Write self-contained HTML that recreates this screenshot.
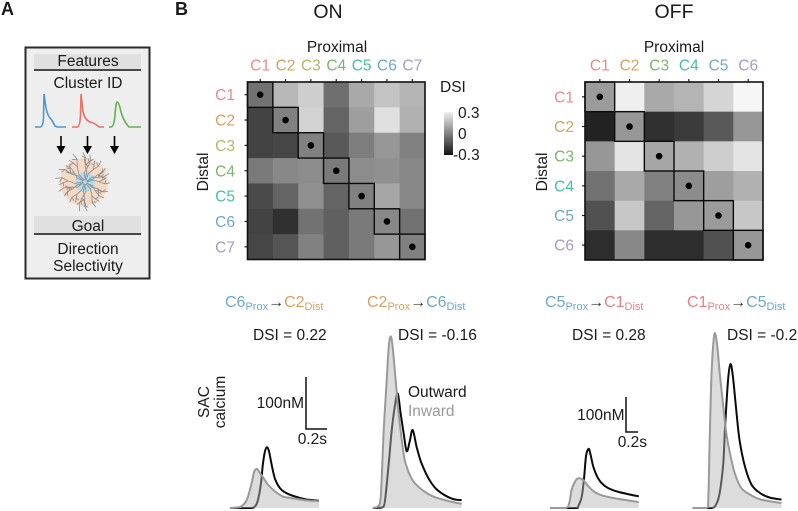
<!DOCTYPE html>
<html>
<head>
<meta charset="utf-8">
<title>SAC direction selectivity figure</title>
<style>
html,body{margin:0;padding:0;background:#fff}
svg{display:block}
text{font-family:"Liberation Sans",sans-serif;fill:#1a1a1a}
</style>
</head>
<body>
<svg id="fig" xmlns="http://www.w3.org/2000/svg" width="798" height="511" viewBox="0 0 798 511">
  <defs>
    <linearGradient id="cbar" x1="0" y1="0" x2="0" y2="1">
      <stop offset="0" stop-color="#f0f0f0"/><stop offset="1" stop-color="#141414"/>
    </linearGradient>
  </defs>
  <rect width="798" height="511" fill="#fff"/>

  <text x="1" y="15" font-size="18" font-weight="bold">A</text>
  <text x="175" y="15" font-size="18" font-weight="bold">B</text>

  <g>
    <rect x="25.5" y="47.5" width="124" height="231" fill="#eeeeee" stroke="#2a2a2a" stroke-width="2"/>
    <rect x="34" y="54" width="107" height="15" fill="#e0e0e0"/>
    <line x1="34" x2="141" y1="70" y2="70" stroke="#111" stroke-width="1.6"/>
    <text x="88" y="66" font-size="15.5" text-anchor="middle">Features</text>
    <text x="88" y="88" font-size="15.5" text-anchor="middle">Cluster ID</text>
    <path d="M35 127 H40 Q43 127 43.500 118 L44 94 L46 108 Q48 117 51 119 Q53 122 55 126 L57 127 H66" fill="none" stroke="#4f97cf" stroke-width="1.6"/>
    <path d="M72 127 H77 Q80 127 80.500 115 L81 94 L83 112 Q85 120 90 122 Q95 123 99 127 H104" fill="none" stroke="#ec6f6a" stroke-width="1.6"/>
    <path d="M109 127 H111 Q114 127 115 115 Q116 102 117 102 Q119 102 121 112 Q124 122 129 127 H141" fill="none" stroke="#62b04f" stroke-width="1.6"/>
    <g stroke="#000" stroke-width="1.6" fill="#000">
      <path d="M61 136 V147"/><path d="M56.500 146 H65.500 L61 154 Z" stroke="none"/>
      <path d="M87.500 136 V147"/><path d="M83 146 H92 L87.500 154 Z" stroke="none"/>
      <path d="M114.500 136 V147"/><path d="M110 146 H119 L114.500 154 Z" stroke="none"/>
    </g>
    <g id="neuron">
      <circle cx="84" cy="182" r="24" fill="#f5d9c4"/>
      <circle cx="85" cy="182" r="10" fill="#b4dbea"/>
    </g>
    <rect x="34" y="216" width="107" height="17" fill="#e0e0e0"/>
    <line x1="34" x2="141" y1="234" y2="234" stroke="#111" stroke-width="1.6"/>
    <text x="88" y="231" font-size="15.5" text-anchor="middle">Goal</text>
    <text x="88" y="254" font-size="15.5" text-anchor="middle">Direction</text>
    <text x="88" y="271" font-size="15.5" text-anchor="middle">Selectivity</text>
  </g>

  <text x="328" y="18" font-size="19.5" text-anchor="middle">ON</text>
  <text x="674" y="18" font-size="19.5" text-anchor="middle">OFF</text>

  <text x="337" y="52" font-size="15.5" text-anchor="middle">Proximal</text>
  <text x="674" y="52" font-size="15.5" text-anchor="middle">Proximal</text>
  <text transform="translate(208,172) rotate(-90)" font-size="15.5" text-anchor="middle">Distal</text>
  <text transform="translate(547,172) rotate(-90)" font-size="15.5" text-anchor="middle">Distal</text>

  <g id="onHeat"></g>
  <g id="offHeat"></g>

  <g>
    <text x="440" y="92" font-size="15.5">DSI</text>
    <rect x="444" y="112" width="9" height="43" fill="url(#cbar)"/>
    <text x="458" y="118" font-size="15.5">0.3</text>
    <text x="458" y="139" font-size="15.5">0</text>
    <text x="453" y="160" font-size="15.5">-0.3</text>
  </g>

  <text x="225" y="307" font-size="16"><tspan fill="#6fa6d0">C6</tspan><tspan fill="#6fa6d0" font-size="11" dy="3">Prox</tspan><tspan fill="#333" dy="-3">→</tspan><tspan fill="#dd9f5e">C2</tspan><tspan fill="#dd9f5e" font-size="11" dy="3">Dist</tspan></text>
  <text x="367" y="307" font-size="16"><tspan fill="#dd9f5e">C2</tspan><tspan fill="#dd9f5e" font-size="11" dy="3">Prox</tspan><tspan fill="#333" dy="-3">→</tspan><tspan fill="#6fa6d0">C6</tspan><tspan fill="#6fa6d0" font-size="11" dy="3">Dist</tspan></text>
  <text x="545" y="307" font-size="16"><tspan fill="#6fa6d0">C5</tspan><tspan fill="#6fa6d0" font-size="11" dy="3">Prox</tspan><tspan fill="#333" dy="-3">→</tspan><tspan fill="#e98080">C1</tspan><tspan fill="#e98080" font-size="11" dy="3">Dist</tspan></text>
  <text x="687" y="307" font-size="16"><tspan fill="#e98080">C1</tspan><tspan fill="#e98080" font-size="11" dy="3">Prox</tspan><tspan fill="#333" dy="-3">→</tspan><tspan fill="#6fa6d0">C5</tspan><tspan fill="#6fa6d0" font-size="11" dy="3">Dist</tspan></text>

  <text x="253" y="340" font-size="15.5">DSI = 0.22</text>
  <text x="398" y="340" font-size="15.5">DSI = -0.16</text>
  <text x="572" y="340" font-size="15.5">DSI = 0.28</text>
  <text x="727" y="340" font-size="15.5">DSI = -0.2</text>

  <g id="traces"></g>

  <text transform="translate(209,402) rotate(-90)" font-size="15.5" text-anchor="middle">SAC</text>
  <text transform="translate(225,402) rotate(-90)" font-size="15.5" text-anchor="middle">calcium</text>

  <g>
    <path d="M306 377 V429 H327" fill="none" stroke="#111" stroke-width="1.500"/>
    <text x="304" y="408" font-size="15.5" text-anchor="end">100nM</text>
    <text x="327" y="444" font-size="15.5" text-anchor="end">0.2s</text>
  </g>
  <g>
    <path d="M626 397 V432 H638" fill="none" stroke="#111" stroke-width="1.500"/>
    <text x="624.500" y="420" font-size="15.5" text-anchor="end">100nM</text>
    <text x="647" y="447" font-size="15.5" text-anchor="end">0.2s</text>
  </g>

  <text x="408" y="397" font-size="15.5">Outward</text>
  <text x="408" y="416" font-size="15.5" style="fill:#9a9a9a">Inward</text>
</svg>

<script>
const NS = 'http://www.w3.org/2000/svg';

// Heatmap data
const onLabels = ['C1', 'C2', 'C3', 'C4', 'C5', 'C6', 'C7'];
const offLabels = ['C1', 'C2', 'C3', 'C4', 'C5', 'C6'];
const onDsi = [
  [-0.07, 0.12, 0.18, -0.08, 0.08, 0.15, 0.11],
  [-0.20, -0.03, 0.19, -0.11, 0.05, 0.23, 0.10],
  [-0.20, -0.19, -0.03, -0.14, -0.04, 0.03, -0.03],
  [-0.05, -0.01, 0.00, -0.05, 0.00, 0.01, -0.01],
  [-0.18, -0.11, 0.01, -0.11, -0.03, 0.07, -0.01],
  [-0.20, -0.25, -0.07, -0.12, -0.05, -0.01, -0.07],
  [-0.19, -0.15, -0.03, -0.12, -0.05, 0.03, -0.03]
];
const offDsi = [
  [0.04, 0.27, 0.08, 0.11, 0.20, 0.29],
  [-0.29, 0.03, -0.25, -0.22, -0.14, 0.03],
  [0.03, 0.24, 0.07, 0.10, 0.18, 0.24],
  [-0.07, 0.08, -0.03, 0.00, 0.05, 0.10],
  [-0.16, 0.16, -0.11, 0.03, 0.04, 0.16],
  [-0.26, -0.01, -0.26, -0.26, -0.16, 0.03]
];
const onLabelColors = ['#e98a8a', '#d9a05c', '#b8b566', '#7ab668', '#45bfa5', '#6fa6d0', '#a79ac8'];
const offLabelColors = ['#e98a8a', '#d9a05c', '#7ab668', '#45bfa5', '#6fa6d0', '#a79ac8'];

// Trace data: time in seconds, calcium in nM
const p1InT = [0, .1, .15, .18, .22, .24, .27, .3, .33, .38, .45, .53, .62, .75, .89];
const p1InV = [0, 2, 10, 22, 51, 69, 75, 67, 59, 45, 32, 22, 19, 15, 13];
const p1OutT = [0, .2, .25, .28, .31, .33, .35, .37, .39, .42, .45, .5, .55, .62, .75, .89];
const p1OutV = [0, 0, 3, 16, 48, 86, 109, 117, 109, 80, 56, 38, 30, 24, 17, 14];
const p2InT = [0, .05, .08, .11, .14, .16, .18, .2, .23, .26, .3, .33, .4, .5, .62, .79, .89];
const p2InV = [0, 3, 21, 149, 245, 309, 330, 309, 245, 181, 117, 85, 53, 34, 21, 12, 8];
const p2OutT = [0, .09, .12, .16, .19, .22, .25, .28, .31, .34, .37, .4, .44, .49, .57, .65, .79, .89];
const p2OutV = [0, 1, 10, 85, 149, 194, 220, 181, 143, 109, 128, 150, 117, 85, 53, 34, 18, 15];
const p3InT = [0, .26, .32, .36, .41, .45, .5, .56, .64, .75, .89, 1.14, 1.48];
const p3InV = [0, 0, 14, 52, 73, 83, 85, 79, 62, 45, 35, 26, 17];
const p3OutT = [0, .42, .47, .53, .57, .6, .64, .67, .72, .78, .86, .97, 1.14, 1.48];
const p3OutV = [0, 0, 5, 33, 90, 148, 169, 157, 119, 92, 71, 57, 46, 33];
const p4InT = [0, .23, .26, .28, .31, .34, .37, .41, .45, .51, .56, .62, .7, .81, .96, 1.14, 1.48];
const p4InV = [0, 0, 24, 176, 367, 462, 500, 462, 386, 290, 214, 157, 100, 57, 38, 24, 14];
const p4OutT = [0, .31, .39, .45, .51, .54, .59, .63, .67, .72, .78, .87, .98, 1.12, 1.28, 1.48];
const p4OutV = [0, 0, 10, 43, 129, 233, 367, 411, 376, 290, 195, 119, 67, 43, 30, 24];

// Neuron illustration: branch directions (degrees), lengths (px), and wiggle offsets (radians)
const branchAngles = [0, 22, 45, 65, 85, 105, 125, 145, 165, 185, 205, 225, 245, 265, 285, 305, 325, 345];
const branchLengths = [27, 27, 27, 30, 32, 33, 28, 27, 31, 33, 32, 28, 34, 33, 31, 29, 27, 28];
const wiggles = [-0.3, 0.25, 0.4, -0.2, -0.45, 0.3, 0.15, -0.35, 0.35, -0.15, 0.2, -0.4];

function make(tag, attrs, parent) {
  const el = document.createElementNS(NS, tag);
  for (const k in attrs) el.setAttribute(k, attrs[k]);
  parent.appendChild(el);
  return el;
}

function grayScale(v) {
  const g = Math.max(0, Math.min(255, Math.round(140 + v * 366.7)));
  return 'rgb(' + g + ',' + g + ',' + g + ')';
}

function drawHeat(rootId, prefix, labels, colors, values, x0, y0, size, labelRight) {
  const root = document.getElementById(rootId);
  const n = labels.length;
  const cell = size / n;
  const xPos = function (i) { return x0 + i * cell; };
  const yPos = function (i) { return y0 + i * cell; };
  values.forEach(function (row, r) {
    row.forEach(function (v, c) {
      const rect = make('rect', { x: xPos(c), y: yPos(r), width: cell + .4, height: cell + .4, fill: grayScale(v) }, root);
      
      
    });
  });
  labels.forEach(function (lab, i) {
    const colText = make('text', { x: xPos(i) + cell / 2, y: 70.5, 'font-size': 15.5, 'text-anchor': 'middle', style: 'fill:' + colors[i] }, root);
    colText.textContent = lab;
    
    
    const rowText = make('text', { x: labelRight, y: yPos(i) + cell / 2 + 5.5, 'font-size': 15.5, 'text-anchor': 'end', style: 'fill:' + colors[i] }, root);
    rowText.textContent = lab;
    
    
    const colTick = make('line', { x1: xPos(i) + cell / 2, x2: xPos(i) + cell / 2, y1: y0 - 3, y2: y0, stroke: '#222', 'stroke-width': 1.2 }, root);
    
    
    const rowTick = make('line', { x1: x0 - 3, x2: x0, y1: yPos(i) + cell / 2, y2: yPos(i) + cell / 2, stroke: '#222', 'stroke-width': 1.2 }, root);
    
    
  });
  labels.forEach(function (lab, i) {
    const box = make('rect', { x: xPos(i), y: yPos(i), width: cell, height: cell, fill: 'none', stroke: '#0a0a0a', 'stroke-width': 1.4 }, root);
    
    
    const dot = make('circle', { cx: xPos(i) + cell / 2, cy: yPos(i) + cell / 2, r: 3.3, fill: '#000' }, root);
    
    
  });
  const frame = make('rect', { x: x0, y: y0, width: size, height: size, fill: 'none', stroke: '#111', 'stroke-width': 1.6 }, root);
  
  
}

drawHeat('onHeat', 'on', onLabels, onLabelColors, onDsi, 247.5, 82, 177.5, 235);
drawHeat('offHeat', 'off', offLabels, offLabelColors, offDsi, 585, 82, 178, 574);

function smoothPath(points, floorY) {
  let d = 'M' + points[0][0].toFixed(1) + ' ' + points[0][1].toFixed(1);
  for (let i = 0; i < points.length - 1; i++) {
    const p0 = points[Math.max(0, i - 1)], p1 = points[i], p2 = points[i + 1], p3 = points[Math.min(points.length - 1, i + 2)];
    const c1x = p1[0] + (p2[0] - p0[0]) / 6, c1y = Math.min(floorY, p1[1] + (p2[1] - p0[1]) / 6);
    const c2x = p2[0] - (p3[0] - p1[0]) / 6, c2y = Math.min(floorY, p2[1] - (p3[1] - p1[1]) / 6);
    d += ' C' + c1x.toFixed(1) + ' ' + c1y.toFixed(1) + ' ' + c2x.toFixed(1) + ' ' + c2y.toFixed(1) + ' ' + p2[0].toFixed(1) + ' ' + p2[1].toFixed(1);
  }
  return d;
}

function drawTraces(x0, pxPerSec, pxPerNM, inT, inV, outT, outV, name) {
  const root = document.getElementById('traces');
  const baseY = 508;
  const xAxis = function (t) { return x0 + t * pxPerSec; };
  const yAxis = function (v) { return baseY - v * pxPerNM; };
  const pts = function (ts, vs) {
    return ts.map(function (t, i) { return [xAxis(t), yAxis(vs[i])]; });
  };
  const outLine = make('path', { d: smoothPath(pts(outT, outV), baseY), fill: 'none', stroke: '#0b0b0b', 'stroke-width': 2, 'stroke-linejoin': 'round' }, root);
  
  
  const last = inT.length - 1;
  const inPath = smoothPath(pts(inT, inV), baseY);
  const area = make('path', { d: inPath + ' L' + xAxis(inT[last]).toFixed(1) + ' ' + baseY + ' L' + xAxis(inT[0]).toFixed(1) + ' ' + baseY + ' Z', fill: 'rgb(181,181,181)', 'fill-opacity': .47 }, root);
  
  
  const inLine = make('path', { d: inPath, fill: 'none', stroke: '#999999', 'stroke-width': 2, 'stroke-linejoin': 'round' }, root);
  
  
}

drawTraces(230, 100, 0.52, p1InT, p1InV, p1OutT, p1OutV, 'c6-c2');
drawTraces(372.7, 100, 0.52, p2InT, p2InV, p2OutT, p2OutV, 'c2-c6');
drawTraces(550, 60, 0.35, p3InT, p3InV, p3OutT, p3OutV, 'c5-c1');
drawTraces(692.7, 60, 0.35, p4InT, p4InV, p4OutT, p4OutV, 'c1-c5');

(function drawNeuron() {
  const root = document.getElementById('neuron');
  const cx = 85, cy = 182;
  let counter = 0;
  function grow(x, y, a, len, depth) {
    const w = wiggles[counter % wiggles.length];
    counter += 1;
    const na = a + w;
    const ex = x + Math.cos(na) * len, ey = y + Math.sin(na) * len;
    let d = 'M' + x.toFixed(1) + ' ' + y.toFixed(1) + ' L' + ex.toFixed(1) + ' ' + ey.toFixed(1);
    if (depth > 0) {
      d += ' ' + grow(ex, ey, a, len * 0.95, depth - 1);
      if (depth < 3) {
        d += ' ' + grow(ex, ey, a + (w > 0 ? -0.7 : 0.7), len * 0.7, depth - 1);
      }
    }
    return d;
  }
  branchAngles.forEach(function (deg, i) {
    const a = deg * Math.PI / 180;
    const d = grow(cx + Math.cos(a) * 2, cy + Math.sin(a) * 2, a, branchLengths[i] / 4.2, 3);
    const branch = make('path', { d: d, fill: 'none', stroke: '#84878c', 'stroke-width': 0.85, 'stroke-opacity': .9 }, root);
    
    
  });
})();
</script>
</body>
</html>
